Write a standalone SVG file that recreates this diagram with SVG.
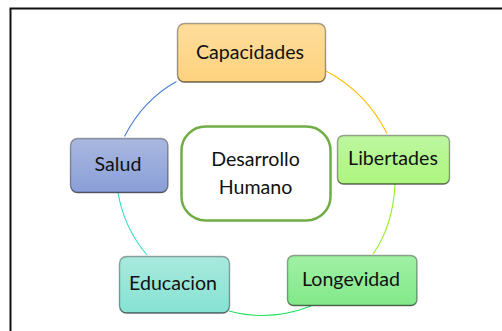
<svg xmlns="http://www.w3.org/2000/svg" width="502" height="331" viewBox="0 0 502 331">
<style>
text{font-family:"Lato","Noto Sans",sans-serif;font-size:19.6px;fill:#111;text-anchor:middle}
.c{fill:none;stroke-width:1.1}
.n{stroke-width:1.4;stroke:url(#e)}
</style>
<defs>
<linearGradient id="e" x1="0" y1="0" x2="0" y2="1"><stop offset="0" stop-color="#000" stop-opacity=".35"/><stop offset=".9" stop-color="#000" stop-opacity=".4"/><stop offset="1" stop-color="#000" stop-opacity=".6"/></linearGradient>
<linearGradient id="o" x1="0" y1="0" x2="0" y2="1"><stop offset="0" stop-color="#fedd9c"/><stop offset="1" stop-color="#fed27e"/></linearGradient>
<linearGradient id="b" x1="0" y1="0" x2="0" y2="1"><stop offset="0" stop-color="#a9b8e0"/><stop offset="1" stop-color="#8a9fd8"/></linearGradient>
<linearGradient id="g" x1="0" y1="0" x2="0" y2="1"><stop offset="0" stop-color="#bdf7a0"/><stop offset="1" stop-color="#adf67e"/></linearGradient>
<linearGradient id="t" x1="0" y1="0" x2="0" y2="1"><stop offset="0" stop-color="#a9e9dd"/><stop offset="1" stop-color="#85e3d4"/></linearGradient>
<linearGradient id="l" x1="0" y1="0" x2="0" y2="1"><stop offset="0" stop-color="#a0f0a4"/><stop offset="1" stop-color="#82e98a"/></linearGradient>
</defs>
<rect width="502" height="331" fill="#fff"/>
<path d="M10.500 331V8.500H502" fill="none" stroke="#111" stroke-width="2"/>
<g id="connectors">
<path class="c" stroke="#4a7fd0" d="M176.500 81.500Q143 100 124.500 136.500"/>
<path class="c" stroke="#ffc000" d="M326 71Q366 92 387 133.500"/>
<path class="c" stroke="#92f020" d="M395 184Q393 226 373 254"/>
<path class="c" stroke="#22e060" d="M229 311Q270 322 311 306"/>
<path class="c" stroke="#30dcc8" d="M118 192.500Q124 228 147 255"/>
</g>
<g id="capacidades"><rect class="n" x="177.500" y="23.500" width="148" height="58.500" rx="7" fill="url(#o)"/><text x="250" y="58.500">Capacidades</text></g>
<g id="salud"><rect class="n" x="70.500" y="138.500" width="97.500" height="54" rx="7" fill="url(#b)"/><text x="118" y="170.500">Salud</text></g>
<g id="libertades"><rect class="n" x="337.500" y="135.500" width="112" height="48.500" rx="6" fill="url(#g)"/><text x="393" y="165">Libertades</text></g>
<g id="educacion"><rect class="n" x="119.500" y="256.500" width="110" height="56.500" rx="7" fill="url(#t)"/><text x="173" y="290">Educacion</text></g>
<g id="longevidad"><rect class="n" x="287.500" y="255.500" width="129.500" height="50" rx="6" fill="url(#l)"/><text x="351" y="285.500">Longevidad</text></g>
<g id="desarrollo"><rect x="181.500" y="126.500" width="149" height="94" rx="24" fill="#fff" stroke="#70ad47" stroke-width="2.500"/><text x="255.500" y="165.500">Desarrollo</text><text x="255.500" y="194">Humano</text></g>
</svg>
